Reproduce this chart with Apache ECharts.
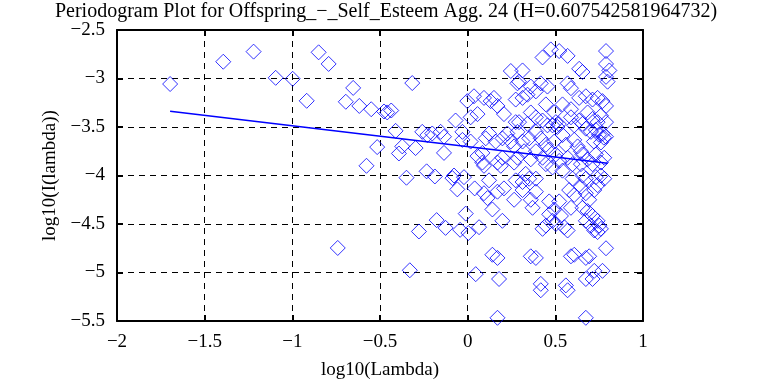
<!DOCTYPE html>
<html>
<head>
<meta charset="utf-8">
<script src="https://cdn.jsdelivr.net/npm/echarts@6/dist/echarts.min.js"></script>
<style>html,body{margin:0;padding:0;background:#fff}#c{width:759px;height:385px}</style>
</head>
<body>
<div id="c"></div>
<script>
const titleText = "Periodogram Plot for Offspring_\u2212_Self_Esteem Agg. 24 (H=0.607542581964732)";
const xAxisName = "log10(Lambda)";
const yAxisName = "log10(I(lambda))";
const xTicks = [-2, -1.5, -1, -0.5, 0, 0.5, 1];
const yTicks = [-5.5, -5, -4.5, -4, -3.5, -3, -2.5];

const logLambda = [
-1.697,-1.394,-1.221,-1.095,-0.998,-0.918,-0.850,-0.793,-0.741,-0.695,
-0.653,-0.618,-0.577,-0.550,-0.516,-0.477,-0.459,-0.436,-0.411,-0.392,
-0.373,-0.349,-0.330,-0.316,-0.297,-0.278,-0.259,-0.234,-0.230,-0.202,
-0.187,-0.177,-0.154,-0.135,-0.135,-0.126,-0.087,-0.078,-0.069,-0.059,
-0.043,-0.030,-0.030,-0.021,-0.011,-0.002,0.004,0.017,0.017,0.036,
0.040,0.046,0.056,0.056,0.065,0.084,0.084,0.093,0.093,0.093,
0.103,0.113,0.122,0.122,0.131,0.141,0.141,0.150,0.160,0.170,
0.170,0.170,0.170,0.170,0.179,0.189,0.198,0.198,0.198,0.207,
0.207,0.226,0.246,0.246,0.265,0.265,0.265,0.274,0.274,0.274,
0.284,0.284,0.284,0.293,0.293,0.313,0.313,0.313,0.313,0.313,
0.322,0.331,0.341,0.341,0.351,0.351,0.360,0.360,0.360,0.360,
0.360,0.370,0.389,0.389,0.389,0.389,0.389,0.389,0.389,0.417,
0.417,0.417,0.417,0.427,0.427,0.427,0.427,0.446,0.446,0.446,
0.446,0.455,0.455,0.465,0.465,0.465,0.474,0.484,0.484,0.484,
0.494,0.494,0.494,0.503,0.503,0.503,0.512,0.520,0.522,0.522,
0.522,0.532,0.541,0.541,0.541,0.551,0.560,0.560,0.570,0.570,
0.570,0.570,0.570,0.579,0.589,0.589,0.589,0.589,0.589,0.598,
0.598,0.608,0.608,0.608,0.608,0.627,0.636,0.636,0.636,0.646,
0.646,0.646,0.655,0.655,0.655,0.655,0.655,0.674,0.674,0.674,
0.674,0.674,0.674,0.674,0.674,0.684,0.684,0.684,0.693,0.693,
0.703,0.703,0.712,0.712,0.712,0.712,0.712,0.720,0.722,0.722,
0.722,0.731,0.731,0.731,0.741,0.741,0.741,0.741,0.741,0.749,
0.750,0.760,0.760,0.760,0.760,0.760,0.769,0.769,0.769,0.777,
0.779,0.779,0.789,0.789,0.789,0.789,0.789,0.789,0.789,0.798,
0.808
];
const logPeriodogram = [
-3.057,-2.827,-2.723,-2.993,-3.003,-3.230,-2.730,-2.850,-4.747,-3.240,
-3.097,-3.283,-3.900,-3.317,-3.707,-3.340,-3.350,-3.330,-3.540,-3.773,
-3.700,-4.023,-4.977,-3.047,-3.717,-4.577,-3.550,-3.957,-3.583,-3.567,
-4.010,-4.460,-3.550,-3.600,-3.767,-4.540,-4.027,-4.000,-3.433,-4.143,
-4.560,-3.550,-3.633,-4.017,-4.393,-3.233,-4.593,-3.650,-3.400,-3.183,
-4.133,-5.017,-3.367,-3.800,-4.533,-3.867,-3.767,-3.200,-3.900,-4.183,
-3.617,-4.233,-3.567,-4.050,-3.233,-4.350,-4.817,-3.200,-3.650,-3.283,
-3.867,-4.850,-4.167,-5.467,-5.067,-3.900,-3.617,-3.817,-4.467,-3.367,
-4.133,-3.567,-2.923,-3.650,-3.700,-3.867,-4.250,-3.217,-3.450,-4.050,
-3.050,-3.817,-3.550,-3.033,-3.450,-2.917,-3.200,-3.650,-4.067,-4.150,
-3.750,-3.983,-3.167,-3.467,-3.617,-4.033,-3.083,-3.350,-3.833,-4.250,
-4.833,-4.333,-3.133,-3.400,-3.550,-3.750,-4.033,-4.167,-4.850,-3.050,
-3.617,-5.117,-5.183,-2.783,-3.433,-3.817,-4.550,-3.267,-3.683,-3.883,
-4.517,-3.083,-3.483,-3.733,-4.267,-4.400,-2.700,-3.483,-3.917,-4.467,
-3.350,-3.650,-4.350,-3.450,-3.783,-4.500,-3.500,-3.470,-2.717,-3.850,
-4.267,-4.417,-3.267,-3.583,-3.950,-4.533,-3.683,-5.133,-2.767,-3.050,
-3.817,-4.567,-5.183,-4.150,-3.100,-3.317,-3.400,-4.333,-4.833,-3.883,
-4.033,-3.483,-3.633,-4.200,-4.817,-3.700,-2.900,-3.200,-3.433,-3.750,
-3.883,-4.117,-2.933,-3.467,-3.783,-4.000,-4.333,-3.183,-3.517,-4.033,
-4.183,-4.467,-4.850,-5.067,-5.467,-3.350,-3.833,-4.367,-4.250,-4.833,
-3.550,-4.517,-3.217,-3.417,-3.883,-4.417,-5.067,-3.650,-4.150,-4.567,
-4.983,-3.530,-3.783,-4.017,-3.200,-3.450,-4.100,-4.467,-4.583,-3.580,
-4.517,-3.383,-3.660,-3.867,-4.000,-4.550,-3.233,-3.567,-4.983,-3.610,
-3.817,-4.033,-2.717,-2.850,-2.983,-3.283,-3.450,-3.600,-4.750,-3.033,
-2.917
];
const fitX = [-1.697, 0.798];
const fitY = [-3.337, -3.873];

const points = logLambda.map((x, i) => [x, logPeriodogram[i]]);
const fitLine = fitX.map((x, i) => [x, fitY[i]]);

const FONT = "Liberation Serif";
const fmt = v => String(v).replace('-', '\u2212');
const chart = echarts.init(document.getElementById('c'), null, {renderer: 'canvas'});
const baseAxis = {
  interval: 0.5,
  axisLine: {show: true, onZero: false, lineStyle: {color: '#000', width: 2}},
  axisTick: {show: true, inside: true, length: 6, lineStyle: {color: '#000', width: 2}},
  splitLine: {show: false}
};
chart.setOption({
  animation: false,
  backgroundColor: '#fff',
  title: {
    text: titleText, left: 381, top: -3, textAlign: 'center',
    textStyle: {fontFamily: FONT, fontSize: 20, fontWeight: 'normal', color: '#000'}
  },
  grid: {left: 117, top: 30, width: 526, height: 300, containLabel: false},
  xAxis: [
    Object.assign({}, baseAxis, {
      type: 'value', position: 'bottom', min: xTicks[0], max: xTicks[xTicks.length - 1],
      name: xAxisName, nameLocation: 'middle', nameGap: 40,
      nameTextStyle: {fontFamily: FONT, fontSize: 19, color: '#000'},
      axisLabel: {formatter: fmt, fontFamily: FONT, fontSize: 19, color: '#000', margin: 12},
      splitLine: {show: true, lineStyle: {color: '#000', type: [6, 5], width: 1}}
    }),
    Object.assign({}, baseAxis, {
      type: 'value', position: 'top', min: xTicks[0], max: xTicks[xTicks.length - 1],
      axisLabel: {show: false}
    })
  ],
  yAxis: [
    Object.assign({}, baseAxis, {
      type: 'value', position: 'left', min: yTicks[0], max: yTicks[yTicks.length - 1],
      name: yAxisName, nameLocation: 'middle', nameGap: 46, nameRotate: 90,
      nameTextStyle: {fontFamily: FONT, fontSize: 19, color: '#000'},
      axisLabel: {formatter: fmt, fontFamily: FONT, fontSize: 19, color: '#000', margin: 12},
      splitLine: {show: true, lineStyle: {color: '#000', type: [6, 5], width: 1}}
    }),
    Object.assign({}, baseAxis, {
      type: 'value', position: 'right', min: yTicks[0], max: yTicks[yTicks.length - 1],
      axisLabel: {show: false}
    })
  ],
  series: [
    {
      type: 'scatter', data: points, symbol: 'diamond', symbolSize: 15,
      itemStyle: {color: 'rgba(0,0,0,0)', borderColor: '#0000ff', borderWidth: 1},
      clip: false
    },
    {
      type: 'line', data: fitLine, symbol: 'none',
      lineStyle: {color: '#0000ff', width: 1.5}
    }
  ]
});
</script>
</body>
</html>
